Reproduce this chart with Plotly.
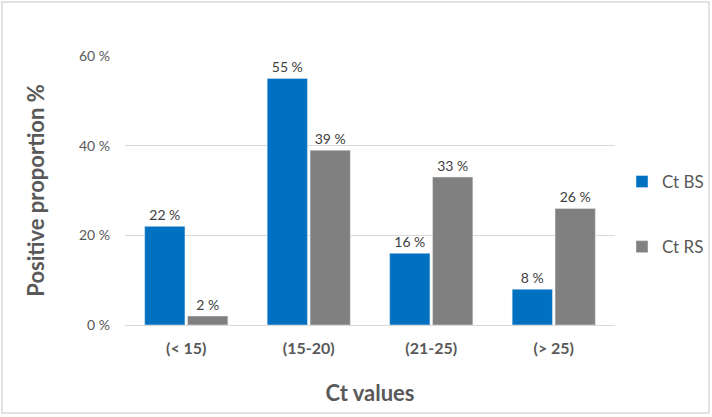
import plotly.graph_objects as go

categories = ["(< 15)", "(15-20)", "(21-25)", "(> 25)"]
ct_bs = [22, 55, 16, 8]
ct_rs = [2, 39, 33, 26]
y_ticks = [0, 20, 40, 60]

W, H = 712, 417
L, R, T, B = 125, 97, 56, 92
pw, ph = W - L - R, H - T - B

font_fam = "Lato, 'Open Sans', sans-serif"
txt_col = "#595959"

fig = go.Figure()
fig.add_trace(go.Bar(
    x=categories, y=ct_bs, name="Ct BS", marker_color="#0070C0",
    text=[f"{v} %" for v in ct_bs], textposition="outside", cliponaxis=False,
    textfont=dict(size=14, color="#404040", family=font_fam),
    legendgroup="a",
))
fig.add_trace(go.Bar(
    x=categories, y=ct_rs, name="Ct RS", marker_color="#808080",
    text=[f"{v} %" for v in ct_rs], textposition="outside", cliponaxis=False,
    textfont=dict(size=14, color="#404040", family=font_fam),
    legendgroup="b",
))

def px(xpix):
    return (xpix - L) / pw

def py(ypix):
    return 1 - (ypix - T) / ph

fig.add_shape(type="rect", xref="paper", yref="paper",
              x0=px(2), x1=px(709), y0=py(2), y1=py(413),
              line=dict(color="#d9d9d9", width=1.5), layer="below")

fig.update_layout(
    width=W, height=H,
    margin=dict(l=L, r=R, t=T, b=B, autoexpand=False),
    plot_bgcolor="white", paper_bgcolor="white",
    barmode="group", bargap=0.3, bargroupgap=0.06,
    font=dict(family=font_fam, color=txt_col),
    legend=dict(xref="container", yref="container",
                x=622 / W, y=1 - 164 / H, xanchor="left", yanchor="top",
                font=dict(size=17, color=txt_col, family=font_fam),
                traceorder="grouped", tracegroupgap=40,
                itemwidth=30, bgcolor="rgba(0,0,0,0)"),
    xaxis=dict(
        title=dict(text="<b>Ct values</b>", font=dict(size=22, color=txt_col), standoff=29),
        tickfont=dict(size=16, color=txt_col),
        tickvals=categories, ticktext=[f"<b>{c}</b>" for c in categories],
        showline=False, ticks="", ticklabelstandoff=12,
    ),
    yaxis=dict(
        title=dict(text="<b>Positive proportion %</b>", font=dict(size=22, color=txt_col), standoff=28),
        range=[0, 60], tickvals=y_ticks, ticktext=[f"{v} %" for v in y_ticks],
        tickfont=dict(size=14, color=txt_col),
        gridcolor="#d9d9d9", gridwidth=1,
        zeroline=True, zerolinecolor="#d9d9d9", zerolinewidth=1,
        ticks="", ticklabelstandoff=14,
    ),
)

fig.write_html("out.html")
